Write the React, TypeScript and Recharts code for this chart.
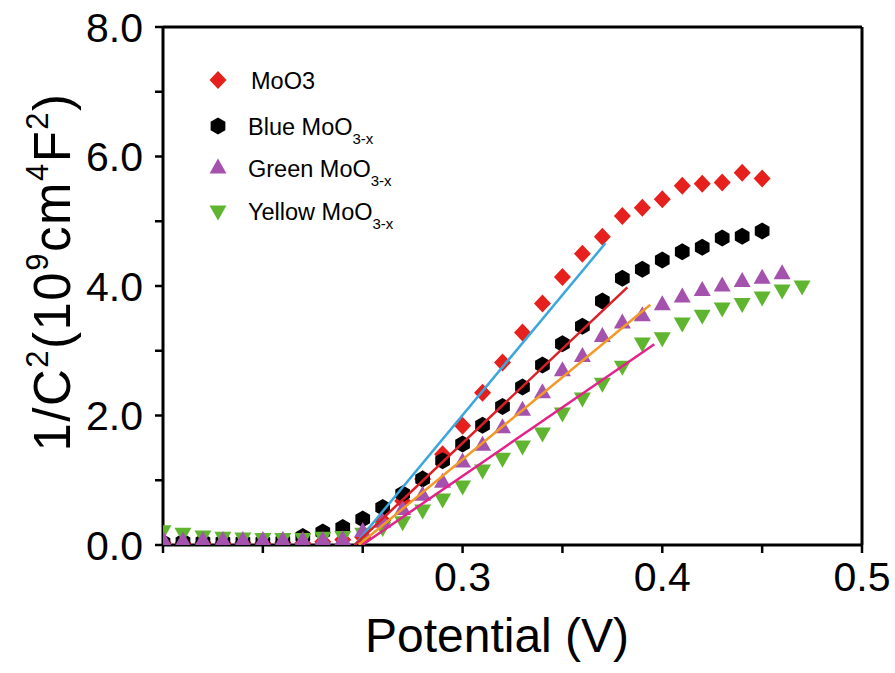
import React from "react"
import {
    ScatterChart,
    Scatter,
    XAxis,
    YAxis,
    Legend,
    ReferenceLine
} from "recharts"

const FONT = "'Liberation Sans', Arial, sans-serif"

// Potential (V) sampled every 10 mV
const potential = [
    0.15, 0.16, 0.17, 0.18, 0.19, 0.2, 0.21, 0.22, 0.23, 0.24, 0.25,
    0.26, 0.27, 0.28, 0.29, 0.3, 0.31, 0.32, 0.33, 0.34, 0.35, 0.36,
    0.37, 0.38, 0.39, 0.4, 0.41, 0.42, 0.43, 0.44, 0.45, 0.46, 0.47
]

// 1/C^2 in 10^9 cm^4 F^-2
const moo3 = [
    0.04, 0.03, 0.04, 0.03, 0.04, 0.03, 0.04, 0.03, 0.05, 0.08, 0.12,
    0.38, 0.68, 1.02, 1.4, 1.84, 2.35, 2.82, 3.28, 3.73, 4.14, 4.5,
    4.76, 5.08, 5.21, 5.34, 5.55, 5.58, 5.6, 5.75, 5.66
]
const blueMoo = [
    0.04, 0.05, 0.05, 0.05, 0.05, 0.05, 0.06, 0.13, 0.2, 0.27, 0.4,
    0.58, 0.79, 1.02, 1.3, 1.56, 1.85, 2.14, 2.44, 2.78, 3.11, 3.38,
    3.77, 4.12, 4.26, 4.4, 4.53, 4.6, 4.74, 4.77, 4.85
]
const greenMoo = [
    0.08, 0.06, 0.07, 0.07, 0.07, 0.07, 0.07, 0.07, 0.07, 0.08, 0.21,
    0.35, 0.55, 0.77, 0.97, 1.28, 1.54, 1.81, 2.08, 2.35, 2.69, 2.91,
    3.22, 3.43, 3.54, 3.71, 3.83, 3.93, 4.0, 4.07, 4.12, 4.19
]
const yellowMoo = [
    0.22, 0.18, 0.14, 0.12, 0.11, 0.1, 0.1, 0.1, 0.12, 0.13, 0.18,
    0.27, 0.36, 0.54, 0.71, 0.91, 1.16, 1.34, 1.53, 1.73, 2.04, 2.27,
    2.5, 2.76, 3.12, 3.2, 3.43, 3.55, 3.66, 3.73, 3.83, 3.94, 4.0
]

// Mott-Schottky linear fits: [start V, end V] and [start y, end y]
const fitMoo3X = [0.246, 0.3715]
const fitMoo3Y = [0, 4.66]
const fitBlueX = [0.246, 0.3825]
const fitBlueY = [0, 3.98]
const fitGreenX = [0.248, 0.394]
const fitGreenY = [0, 3.71]
const fitYellowX = [0.2497, 0.396]
const fitYellowY = [0, 3.1]

const xTicks = [0.15, 0.2, 0.25, 0.3, 0.35, 0.4, 0.45, 0.5]
const xTickLabels = ["", "", "", "0.3", "", "0.4", "", "0.5"]
const yTicks = [0, 1, 2, 3, 4, 5, 6, 7, 8]
const yTickLabels = ["0.0", "", "2.0", "", "4.0", "", "6.0", "", "8.0"]

const toPoints = (ys: number[]) => ys.map((y, i) => ({ x: potential[i], y }))
const toFit = (xs: number[], ys: number[]) => xs.map((x, i) => ({ x, y: ys[i] }))

const colors = {
    moo3: "#e5201d",
    blue: "#000000",
    green: "#a552ae",
    yellow: "#5fb52f",
    fitMoo3: "#3ba7dc",
    fitBlue: "#dc1f26",
    fitGreen: "#f29a26",
    fitYellow: "#e3238b"
}

type ShapeProps = { cx?: number; cy?: number; fill?: string }

const Diamond = ({ cx = 0, cy = 0, fill }: ShapeProps) => (
    <path d={`M${cx},${cy - 9}L${cx + 8.5},${cy}L${cx},${cy + 9}L${cx - 8.5},${cy}Z`} fill={fill} />
)

const Hexagon = ({ cx = 0, cy = 0, fill }: ShapeProps) => {
    const r = 8.5
    const pts = [0, 1, 2, 3, 4, 5]
        .map(k => {
            const a = (Math.PI / 3) * k - Math.PI / 2
            return `${cx + r * Math.cos(a)},${cy + r * Math.sin(a)}`
        })
        .join(" ")
    return <polygon points={pts} fill={fill} />
}

const TriangleUp = ({ cx = 0, cy = 0, fill }: ShapeProps) => (
    <path d={`M${cx},${cy - 9.5}L${cx + 8.5},${cy + 5.5}L${cx - 8.5},${cy + 5.5}Z`} fill={fill} />
)

const TriangleDown = ({ cx = 0, cy = 0, fill }: ShapeProps) => (
    <path d={`M${cx - 8.5},${cy - 5.5}L${cx + 8.5},${cy - 5.5}L${cx},${cy + 9.5}Z`} fill={fill} />
)

const noDot = () => <g />

const legendItems = [
    { name: "MoO3", sub: "", color: colors.moo3, Shape: Diamond },
    { name: "Blue MoO", sub: "3-x", color: colors.blue, Shape: Hexagon },
    { name: "Green MoO", sub: "3-x", color: colors.green, Shape: TriangleUp },
    { name: "Yellow MoO", sub: "3-x", color: colors.yellow, Shape: TriangleDown }
]

const renderLegend = () => (
    <svg width={260} height={180} style={{ fontFamily: FONT }}>
        {legendItems.map((item, i) => {
            const cy = [22, 68, 110, 153][i]
            return (
                <g key={item.name}>
                    <item.Shape cx={18} cy={cy} fill={item.color} />
                    <text x={item.sub ? 48 : 51} y={cy + 9} fontSize={23.5} fill="#000">
                        {item.name}
                        {item.sub && (
                            <tspan dy={9} fontSize={15}>{item.sub}</tspan>
                        )}
                    </text>
                </g>
            )
        })}
    </svg>
)

const YTitle = () => (
    <text
        transform="translate(70,272) rotate(-90)"
        textAnchor="middle"
        fontSize={51}
        letterSpacing={1.5}
        fill="#000"
        fontFamily={FONT}
    >
        <tspan>1/C</tspan>
        <tspan dy={-22} fontSize={31}>2</tspan>
        <tspan dy={22}>(10</tspan>
        <tspan dy={-22} fontSize={31}>9</tspan>
        <tspan dy={22}>cm</tspan>
        <tspan dy={-22} fontSize={31}>4</tspan>
        <tspan dy={22}>F</tspan>
        <tspan dy={-22} fontSize={31}>2</tspan>
        <tspan dy={22}>)</tspan>
    </text>
)

const XTitle = () => (
    <text x={497} y={652} textAnchor="middle" fontSize={48} fill="#000" fontFamily={FONT}>
        Potential (V)
    </text>
)

export default function App() {
    const tickStyle = { fill: "#000", fontSize: 41, fontFamily: FONT }
    const axisLine = { stroke: "#000", strokeWidth: 3 }
    const tickLine = { stroke: "#000", strokeWidth: 2.5 }

    return (
        <div style={{ position: "absolute", left: 0, top: 0, background: "#fff" }}>
            <ScatterChart
                width={895}
                height={673}
                margin={{ top: 27, right: 33, bottom: 68, left: 83 }}
            >
                <XAxis
                    type="number"
                    dataKey="x"
                    domain={[0.15, 0.5]}
                    ticks={xTicks}
                    tickFormatter={(_v: number, i: number) => xTickLabels[i]}
                    allowDataOverflow
                    height={60}
                    tickSize={8}
                    tickMargin={9}
                    tick={tickStyle}
                    axisLine={axisLine}
                    tickLine={tickLine}
                    label={{ content: XTitle }}
                />
                <YAxis
                    type="number"
                    dataKey="y"
                    domain={[0, 8]}
                    ticks={yTicks}
                    tickFormatter={(_v: number, i: number) => yTickLabels[i]}
                    allowDataOverflow
                    width={80}
                    tickSize={8}
                    tickMargin={12}
                    tick={tickStyle}
                    axisLine={axisLine}
                    tickLine={tickLine}
                    label={{ content: YTitle }}
                />

                {/* frame on the top and right */}
                <ReferenceLine y={8} stroke="#000" strokeWidth={3} />
                <ReferenceLine x={0.5} stroke="#000" strokeWidth={3} />

                <Legend
                    content={renderLegend}
                    layout="horizontal"
                    verticalAlign="middle"
                    align="center"
                    wrapperStyle={{ top: 58, left: 200, width: 260 }}
                />

                <Scatter data={toPoints(moo3)} fill={colors.moo3} shape={Diamond} isAnimationActive={false} />
                <Scatter data={toPoints(blueMoo)} fill={colors.blue} shape={Hexagon} isAnimationActive={false} />
                <Scatter data={toPoints(yellowMoo)} fill={colors.yellow} shape={TriangleDown} isAnimationActive={false} />
                <Scatter data={toPoints(greenMoo)} fill={colors.green} shape={TriangleUp} isAnimationActive={false} />

                {/* linear fits */}
                <Scatter data={toFit(fitMoo3X, fitMoo3Y)} line={{ stroke: colors.fitMoo3, strokeWidth: 2.5 }} shape={noDot} isAnimationActive={false} />
                <Scatter data={toFit(fitBlueX, fitBlueY)} line={{ stroke: colors.fitBlue, strokeWidth: 2.5 }} shape={noDot} isAnimationActive={false} />
                <Scatter data={toFit(fitGreenX, fitGreenY)} line={{ stroke: colors.fitGreen, strokeWidth: 2.5 }} shape={noDot} isAnimationActive={false} />
                <Scatter data={toFit(fitYellowX, fitYellowY)} line={{ stroke: colors.fitYellow, strokeWidth: 2.5 }} shape={noDot} isAnimationActive={false} />
            </ScatterChart>
        </div>
    )
}
